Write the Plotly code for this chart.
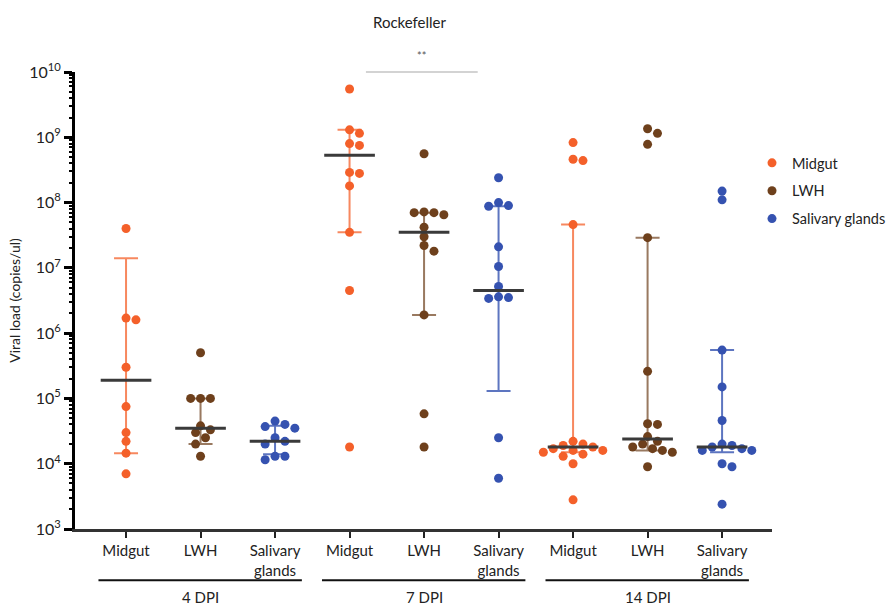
import numpy as np
import plotly.graph_objects as go

# ---------------- data ----------------
tissues = ["Midgut", "LWH", "Salivary glands"]
tissue_ticktext = ["Midgut", "LWH", "Salivary<br>glands"]
dpi_groups = ["4 DPI", "7 DPI", "14 DPI"]

midgut_4 = [4e7, 1.7e6, 1.6e6, 3e5, 7.5e4, 3e4, 2.2e4, 1.45e4, 7e3]
lwh_4 = [5e5, 1e5, 1e5, 1e5, 3.8e4, 3.3e4, 3e4, 2.5e4, 2e4, 1.3e4]
sal_4 = [4.5e4, 4e4, 3.7e4, 3.5e4, 2.5e4, 2.2e4, 2e4, 1.3e4, 1.3e4, 1.15e4]
midgut_7 = [5.5e9, 1.3e9, 1.15e9, 8e8, 7.5e8, 2.9e8, 2.8e8, 1.8e8, 3.5e7, 4.5e6, 1.8e4]
lwh_7 = [5.6e8, 7.2e7, 7e7, 7e7, 6.5e7, 4.2e7, 3e7, 2.2e7, 1.8e7, 1.9e6, 5.8e4, 1.8e4]
sal_7 = [2.4e8, 1e8, 9e7, 8.8e7, 2.1e7, 1.05e7, 5.2e6, 3.6e6, 3.5e6, 3.4e6, 2.5e4, 6e3]
midgut_14 = [8.3e8, 4.6e8, 4.4e8, 4.6e7, 2.2e4, 2e4, 1.9e4, 1.8e4, 1.7e4, 1.6e4, 1.6e4,
             1.5e4, 1.4e4, 1.3e4, 1e4, 2.8e3]
lwh_14 = [1.35e9, 1.15e9, 7.8e8, 2.9e7, 2.6e5, 4.1e4, 4e4, 2.6e4, 2.2e4, 2e4, 1.8e4,
          1.7e4, 1.6e4, 1.5e4, 9e3]
sal_14 = [1.5e8, 1.1e8, 5.5e5, 1.5e5, 4.6e4, 2e4, 1.9e4, 1.8e4, 1.7e4, 1.6e4, 1.6e4,
          1e4, 9e3, 2.4e3]

midgut_median = [1.9e5, 5.3e8, 1.8e4]
midgut_upper = [1.4e7, 1.3e9, 4.6e7]
midgut_lower = [1.45e4, 3.5e7, 1.5e4]
lwh_median = [3.5e4, 3.5e7, 2.4e4]
lwh_upper = [1e5, 7e7, 2.9e7]
lwh_lower = [2e4, 1.9e6, 1.6e4]
sal_median = [2.2e4, 4.5e6, 1.8e4]
sal_upper = [3.8e4, 8.8e7, 5.5e5]
sal_lower = [1.4e4, 1.3e5, 1.5e4]

title_text = "Rockefeller"
sig_text = "**"
y_title = "Viral load (copies/ul)"
y_exponents = [3, 4, 5, 6, 7, 8, 9, 10]

# ---------------- styling ----------------
colors = ["#F4602A", "#6E401C", "#3552B0"]
bar_colors = ["rgba(244,96,42,0.75)", "rgba(110,64,28,0.7)", "rgba(53,82,176,0.8)"]
FONT = "Lato, 'Open Sans', sans-serif"

series = [
    (midgut_4, midgut_7, midgut_14),
    (lwh_4, lwh_7, lwh_14),
    (sal_4, sal_7, sal_14),
]
stats = [
    (midgut_median, midgut_upper, midgut_lower),
    (lwh_median, lwh_upper, lwh_lower),
    (sal_median, sal_upper, sal_lower),
]

# pixel scale used only to spread overlapping dots (beeswarm)
PX_PER_X = 74.5
PX_PER_DEC = 65.3
DIAM = 9.0


def beeswarm(values):
    ly = np.log10(np.array(values, dtype=float)) * PX_PER_DEC
    order = np.argsort(-ly)
    placed = []
    offs = np.zeros(len(values))
    step = DIAM * 0.55
    for i in order:
        for k in range(0, 40):
            cands = [0.0] if k == 0 else [k * step, -k * step]
            ok = None
            for c in cands:
                if all((c - px) ** 2 + (ly[i] - py) ** 2 >= (DIAM * 0.92) ** 2 for px, py in placed):
                    ok = c
                    break
            if ok is not None:
                offs[i] = ok
                placed.append((ok, ly[i]))
                break
    return offs / PX_PER_X


fig = go.Figure()

# invisible trace bound to the minor-tick axis
fig.add_trace(go.Scatter(x=[0], y=[10 ** y_exponents[0]], yaxis="y2", mode="markers",
                         marker=dict(size=1, color="rgba(0,0,0,0)"),
                         showlegend=False, hoverinfo="skip"))

# error bars (range) per tissue
for t in range(3):
    med, up, lo = stats[t]
    xs = [d * 3 + t for d in range(3)]
    fig.add_trace(go.Scatter(
        x=xs, y=med, mode="markers",
        marker=dict(size=1, color="rgba(0,0,0,0)"),
        error_y=dict(type="data", symmetric=False,
                     array=[u - m for u, m in zip(up, med)],
                     arrayminus=[m - l for m, l in zip(med, lo)],
                     color=bar_colors[t], thickness=2, width=12),
        showlegend=False, hoverinfo="skip",
    ))

# points
for t in range(3):
    xs, ys = [], []
    for d in range(3):
        vals = series[t][d]
        offs = beeswarm(vals)
        xs += list(d * 3 + t + offs)
        ys += list(vals)
    fig.add_trace(go.Scatter(
        x=xs, y=ys, mode="markers", name=tissues[t],
        marker=dict(size=DIAM, color=colors[t], line=dict(width=0)),
        legendgroup=tissues[t],
    ))

# median lines
mx, my = [], []
for t in range(3):
    med = stats[t][0]
    for d in range(3):
        c = d * 3 + t
        mx += [c - 0.34, c + 0.34, None]
        my += [med[d], med[d], None]
fig.add_trace(go.Scatter(x=mx, y=my, mode="lines",
                         line=dict(color="#3a3a3a", width=3),
                         showlegend=False, hoverinfo="skip"))

# group lines and labels below the axis
shapes = []
annotations = []
for d, g in enumerate(dpi_groups):
    c = d * 3 + 1
    shapes.append(dict(type="line", xref="x", yref="paper",
                       x0=c - 1.37, x1=c + 1.36, y0=-0.112, y1=-0.112,
                       line=dict(color="#111", width=2)))
    annotations.append(dict(x=c, y=-0.148, xref="x", yref="paper", text=g,
                            showarrow=False, font=dict(size=15, color="#222", family=FONT),
                            yanchor="middle"))

# significance bar
shapes.append(dict(type="line", xref="x", yref="paper", x0=3.22, x1=4.72, y0=1.0, y1=1.0,
                   line=dict(color="#c4c4c4", width=1.5)))
annotations.append(dict(x=3.97, y=1.037, xref="x", yref="paper", text=sig_text,
                        showarrow=False, yanchor="middle",
                        font=dict(size=11, color="#555", family=FONT)))
annotations.append(dict(x=0.481, y=1.109, xref="paper", yref="paper", text=title_text,
                        showarrow=False, yanchor="middle",
                        font=dict(size=15, color="#222", family=FONT)))

minor_vals = [k * 10 ** e for e in range(y_exponents[0], y_exponents[-1]) for k in range(2, 10)]

fig.update_layout(
    width=894, height=606,
    margin=dict(l=75, r=122, t=72, b=77, autoexpand=False),
    paper_bgcolor="white", plot_bgcolor="white",
    font=dict(family=FONT, size=15, color="#222"),
    shapes=shapes, annotations=annotations,
    legend=dict(x=0.9713, y=0.836, xanchor="left", yanchor="top",
                font=dict(size=14.5, color="#222", family=FONT),
                tracegroupgap=6, bgcolor="rgba(0,0,0,0)"),
    xaxis=dict(range=[-0.685, 8.67], showgrid=False, zeroline=False,
               tickmode="array", tickvals=list(range(9)),
               ticktext=tissue_ticktext * 3,
               ticks="outside", ticklen=6, tickwidth=2, tickcolor="#222",
               showline=True, linecolor="#333", linewidth=3,
               tickfont=dict(size=15, family=FONT, color="#222")),
    yaxis=dict(type="log", range=[3, 10], showgrid=False, zeroline=False,
               tickmode="array", tickvals=[10 ** e for e in y_exponents],
               ticktext=["10<sup>%d</sup>" % e for e in y_exponents],
               ticks="outside", ticklen=8, tickwidth=2.5, tickcolor="black",
               showline=True, linecolor="black", linewidth=3,
               tickfont=dict(size=16, family=FONT, color="#222"),
               title=dict(text=y_title, standoff=6,
                          font=dict(size=14, family=FONT, color="#222"))),
    yaxis2=dict(type="log", range=[3, 10], overlaying="y", side="left",
                showgrid=False, zeroline=False, showline=False,
                tickmode="array", tickvals=minor_vals, showticklabels=False,
                ticks="outside", ticklen=5, tickwidth=1.5, tickcolor="black"),
)

fig.write_html("out.html")
